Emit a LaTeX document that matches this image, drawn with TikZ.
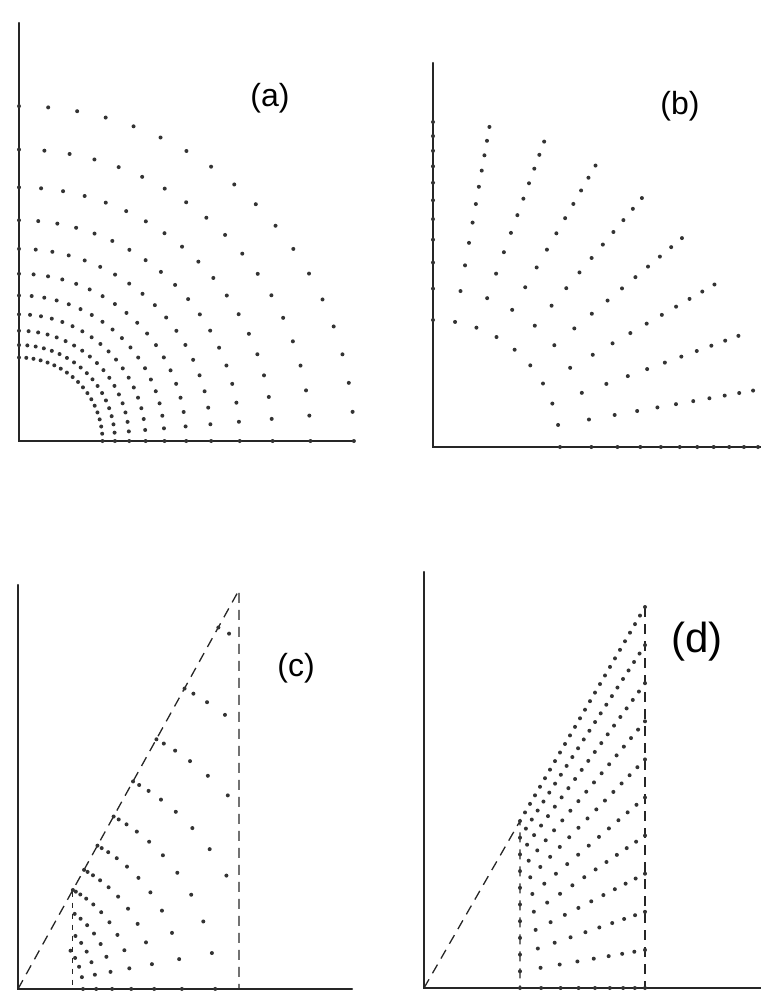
\documentclass[tikz,border=0pt]{standalone}
\usepackage{fontspec}
\setmainfont{Liberation Sans}
\begin{document}
\begin{tikzpicture}[
    x=0.5pt, y=-0.5pt,
    axis/.style={line width=1.1pt, line cap=round, draw=black!85},
    guide/.style={line width=0.65pt, dash pattern=on 5pt off 3.5pt, draw=black!85},
    guidefine/.style={line width=0.5pt, dash pattern=on 2.5pt off 3pt, draw=black!85},
    dot/.style={fill=black!80},
    tag/.style={inner sep=0pt, font=\fontsize{16}{18}\selectfont},
    bigtag/.style={inner sep=0pt, font=\fontsize{21}{24}\selectfont}
  ]
  \useasboundingbox (0,0) rectangle (761,992);

  % frames
  \coordinate (Oa) at (19,441);  \coordinate (Ya) at (19,23);  \coordinate (Xa) at (352,441);
  \coordinate (Ob) at (433,447); \coordinate (Yb) at (433,63); \coordinate (Xb) at (761,447);
  \coordinate (Oc) at (18,989);  \coordinate (Yc) at (18,585); \coordinate (Xc) at (352,989);
  \coordinate (Od) at (424,988); \coordinate (Yd) at (424,572); \coordinate (Xd) at (761,988);
  \draw[axis] (Ya) -- (Oa) -- (Xa);
  \draw[axis] (Yb) -- (Ob) -- (Xb);
  \draw[axis] (Yc) -- (Oc) -- (Xc);
  \draw[axis] (Yd) -- (Od) -- (Xd);

  \node[tag] (taga) at (270,98) {(a)};
  \node[tag] (tagb) at (680,106) {(b)};
  \node[tag] (tagc) at (296,668) {(c)};
  \node[bigtag] (tagd) at (697,642) {(d)};

  % (a) geometric rings
  \foreach \k in {0,...,10}{
    \foreach \a in {0,5,...,90}{
      \pgfmathsetmacro{\rr}{83.5*1.149^\k}
      \fill[dot] ({19+\rr*cos(\a)},{441-\rr*sin(\a)}) circle (1pt);
    }
  }

  % (b) equal-area rings on ten rays
  \foreach \k in {0,...,10}{
    \foreach \a in {0,10,...,90}{
      \pgfmathsetmacro{\rr}{100*sqrt(1.6129+0.895*\k)}
      \fill[dot] ({433+\rr*cos(\a)},{447-\rr*sin(\a)}) circle (1pt);
    }
  }

  % (c) wedge
  \coordinate (Tc) at (239,590);
  \coordinate (Lc) at (72,891.6);
  \coordinate (Bc) at (239,989);
  \coordinate (Kc) at (72,989);
  \draw[guide] (Oc) -- (Tc) -- (Bc);
  \draw[guidefine] (Lc) -- (Kc);
  \foreach \k in {0,...,10}{
    \foreach \j in {0,...,10}{
      \pgfmathsetmacro{\rr}{65*1.2032^\k}
      \pgfmathsetmacro{\tc}{61*(1-0.02*\j-0.008*\j*\j)}
      \pgfmathsetmacro{\xc}{18+\rr*cos(\tc)}
      \pgfmathtruncatemacro{\keep}{(\xc>70.3 && \xc<240) ? 1 : 0}
      \ifnum\keep=1
        \fill[dot] (\xc,{989-\rr*sin(\tc)}) circle (1pt);
      \fi
    }
  }

  % (d) strip
  \coordinate (Ld) at (520,821);
  \coordinate (Kd) at (520,988);
  \coordinate (Td) at (645,607);
  \coordinate (Bd) at (645,988);
  \draw[guide] (Od) -- (Ld) -- (Kd);
  \draw[guide] (Td) -- (Bd);
  \foreach \i in {0,...,10}{
    \pgfmathsetmacro{\vrow}{\i/10}
    \pgfmathtruncatemacro{\ndots}{9+round(0.17*\i*\i)}
    \pgfmathsetmacro{\yleft}{988-167*\vrow}
    \pgfmathsetmacro{\yright}{988-381*\vrow}
    \pgfmathsetmacro{\bendd}{0.4*(1-\vrow)}
    \foreach \j in {1,...,\ndots}{
      \pgfmathsetmacro{\spar}{(\j-1)/(\ndots-1)}
      \pgfmathsetmacro{\upar}{\spar+\bendd*\spar*(1-\spar)}
      \fill[dot] ({520+125*\upar},{\yleft+\upar*(\yright-\yleft)}) circle (1pt);
    }
  }
\end{tikzpicture}
\end{document}
